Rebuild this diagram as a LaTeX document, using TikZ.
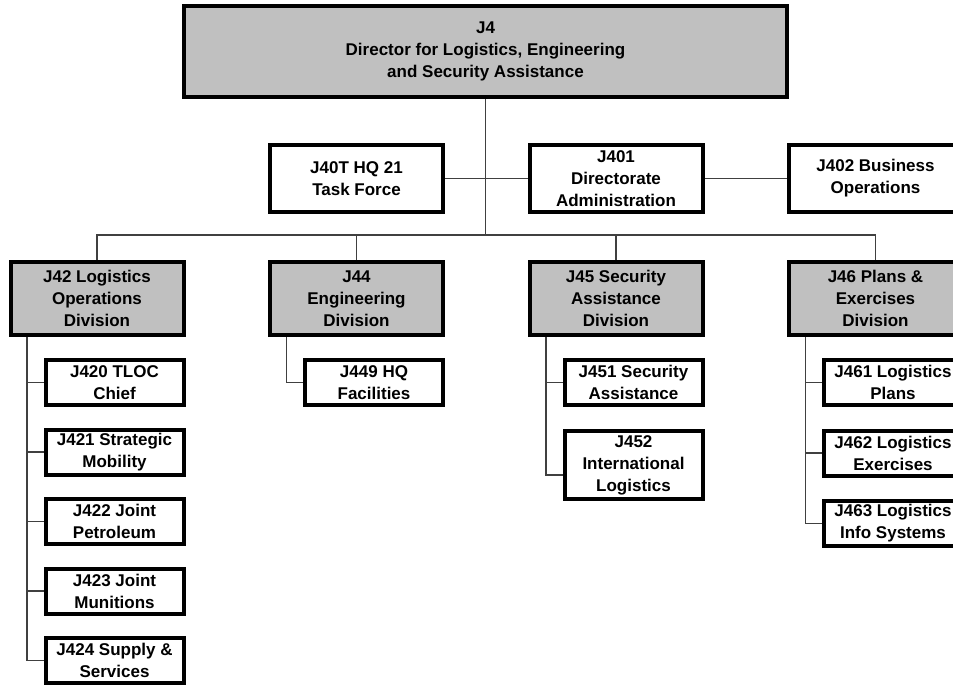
\documentclass[tikz,border=0pt]{standalone}
\usepackage{fontspec}
\setmainfont{Liberation Sans}
\definecolor{boxgray}{HTML}{C0C0C0}
\tikzset{
  box/.style={draw=black, line width=4pt, align=center, inner sep=0pt,
    font=\fontsize{17}{22}\selectfont\bfseries},
  graybox/.style={box, fill=boxgray},
  whitebox/.style={box, fill=white},
  topbox/.style={whitebox, minimum width=173, minimum height=67},
  divbox/.style={graybox, minimum width=173, minimum height=73},
  subbox/.style={whitebox, minimum width=138, minimum height=45},
  conn/.style={draw=black!75, line width=1.2pt},
}
\begin{document}
\begin{tikzpicture}[x=1pt,y=-1pt]
\useasboundingbox (0,0) rectangle (953,686);
\clip (0,0) rectangle (953,686);
% top
\node[graybox, minimum width=603, minimum height=91] (J4) at (485.5,51.5)
  {J4\\Director for Logistics, Engineering\\and Security Assistance};
\node[topbox] (J40T) at (356.5,178.5) {J40T HQ 21\\Task Force};
\node[topbox] (J401) at (616,178.5) {J401\\Directorate\\Administration};
\node[topbox] (J402) at (875.5,178.5) {J402 Business\\Operations};
% divisions
\node[divbox] (J42) at (97,298.5) {J42 Logistics\\Operations\\Division};
\node[divbox] (J44) at (356.5,298.5) {J44\\Engineering\\Division};
\node[divbox] (J45) at (616,298.5) {J45 Security\\Assistance\\Division};
\node[divbox] (J46) at (875.5,298.5) {J46 Plans \&\\Exercises\\Division};
% J42 subs
\node[subbox] (J420) at (114.5,382.5) {J420 TLOC\\Chief};
\node[subbox] (J421) at (114.5,452) {J421 Strategic\\Mobility};
\node[subbox] (J422) at (114.5,521.5) {J422 Joint\\Petroleum};
\node[subbox] (J423) at (114.5,591) {J423 Joint\\Munitions};
\node[subbox] (J424) at (114.5,660.5) {J424 Supply \&\\Services};
% J44 subs
\node[subbox] (J449) at (374,382.5) {J449 HQ\\Facilities};
% J45 subs
\node[subbox] (J451) at (633.5,382.5) {J451 Security\\Assistance};
\node[subbox, minimum height=68] (J452) at (633.5,465) {J452\\International\\Logistics};
% J46 subs
\node[subbox] (J461) at (893,382.5) {J461 Logistics\\Plans};
\node[subbox] (J462) at (893,453) {J462 Logistics\\Exercises};
\node[subbox] (J463) at (893,523.5) {J463 Logistics\\Info Systems};
% connectors
\coordinate (bus) at (485.5,235);
\draw[conn] (J4.south) -- (bus);
\draw[conn] (J40T.east) -- (J401.west);
\draw[conn] (J401.east) -- (J402.west);
\draw[conn] (J42.north) -- (J42.north |- bus) -- (J46.north |- bus) -- (J46.north);
\draw[conn] (J44.north) -- (J44.north |- bus);
\draw[conn] (J45.north) -- (J45.north |- bus);
\foreach \s in {J420,J421,J422,J423,J424}
  \draw[conn] ([xshift=18.5pt]J42.south west) |- (\s.west);
\draw[conn] ([xshift=18.5pt]J44.south west) |- (J449.west);
\draw[conn] ([xshift=18.5pt]J45.south west) |- (J451.west);
\draw[conn] ([xshift=18.5pt]J45.south west) |- ([yshift=-10pt]J452.west);
\foreach \s in {J461,J462,J463}
  \draw[conn] ([xshift=18.5pt]J46.south west) |- (\s.west);
\end{tikzpicture}
\end{document}
